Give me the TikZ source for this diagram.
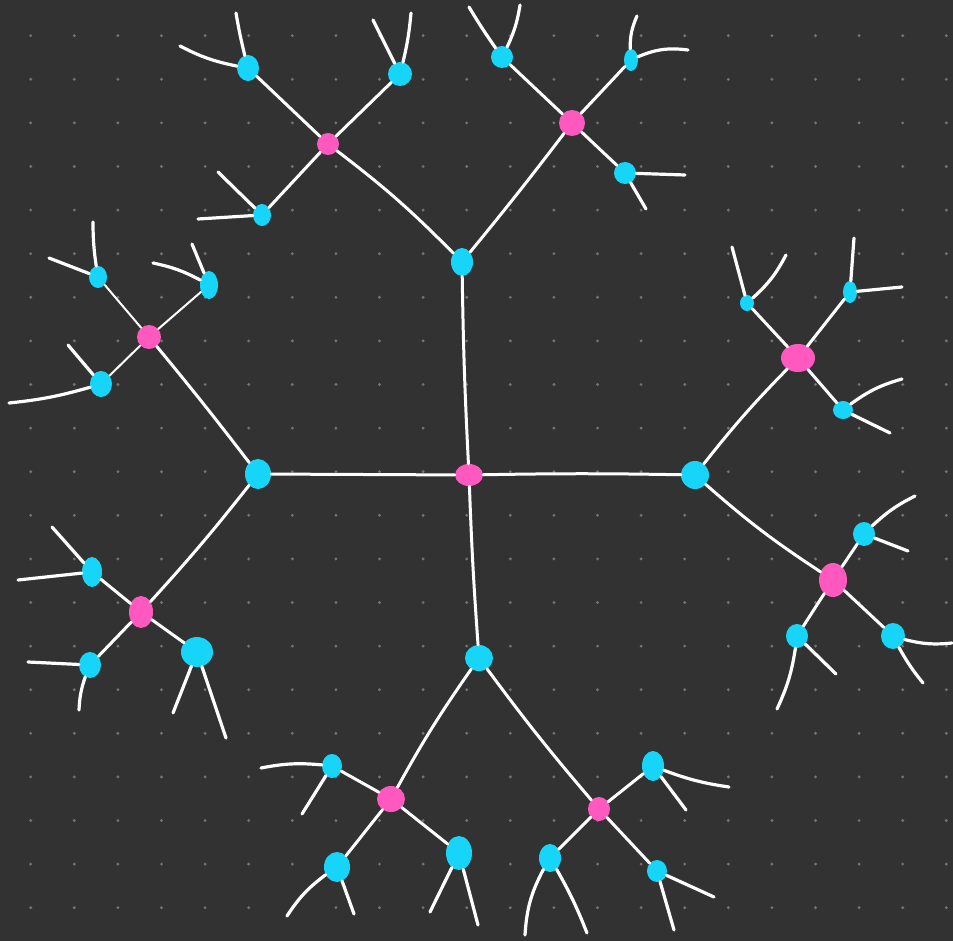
\documentclass[tikz,border=0pt]{standalone}
\usetikzlibrary{shapes.geometric}
\definecolor{bgc}{HTML}{323232}
\definecolor{dotc}{HTML}{747474}
\definecolor{cyn}{HTML}{17D5F8}
\definecolor{pnk}{HTML}{FF59C0}
\tikzset{
  bn/.style 2 args={ellipse,fill=cyn,draw=none,inner sep=0pt,minimum width=#1,minimum height=#2},
  pn/.style 2 args={ellipse,fill=pnk,draw=none,inner sep=0pt,minimum width=#1,minimum height=#2},
  trunk/.style={draw=white,line width=3pt,line cap=round,line join=round},
  twig/.style={draw=white,line width=3pt,line cap=round,line join=round},
  thin/.style={draw=white,line width=2pt,line cap=round,line join=round},
  leaf/.style={draw=white,line width=3.2pt,line cap=round,line join=round},
}
\begin{document}
\begin{tikzpicture}[x=1pt,y=-1pt]
\fill[bgc] (0,0) rectangle (953,941);
\useasboundingbox (0,0) rectangle (953,941);
\foreach \i in {0,...,21}{
  \foreach \j in {0,...,20}{
    \fill[dotc] ({30.7+43.6*\i},{35.7+43.6*\j}) circle (1.6);
  }
}
% ---------- nodes ----------
\node[pn={28pt}{22pt}] (c0) at (469,475) {};
\node[bn={22pt}{28pt}] (t1) at (462,262) {};
\node[bn={26pt}{30pt}] (l1) at (258,474) {};
\node[bn={28pt}{28pt}] (r1) at (695,475) {};
\node[bn={28pt}{26pt}] (b1) at (479,658) {};
% top
\node[pn={22pt}{22pt}] (tp1) at (328,144) {};
\node[bn={22pt}{26pt}] (tp1a) at (248,68) {};
\node[bn={24pt}{24pt}] (tp1b) at (400,74) {};
\node[bn={18pt}{22pt}] (tp1c) at (262,215) {};
\node[pn={26pt}{26pt}] (tp2) at (572,123) {};
\node[bn={22pt}{22pt}] (tp2a) at (502,57) {};
\node[bn={14pt}{22pt}] (tp2b) at (631,60) {};
\node[bn={22pt}{22pt}] (tp2c) at (625,173) {};
% left
\node[pn={24pt}{24pt}] (lp1) at (149,337) {};
\node[bn={18pt}{22pt}] (lp1a) at (98,277) {};
\node[bn={18pt}{28pt}] (lp1b) at (209,285) {};
\node[bn={22pt}{26pt}] (lp1c) at (101,384) {};
\node[pn={24pt}{32pt}] (lp2) at (141,612) {};
\node[bn={20pt}{30pt}] (lp2a) at (92,572) {};
\node[bn={22pt}{26pt}] (lp2b) at (90,665) {};
\node[bn={32pt}{30pt}] (lp2c) at (197,652) {};
% right
\node[pn={34pt}{28pt}] (rp1) at (798,358) {};
\node[bn={14pt}{16pt}] (rp1a) at (747,303) {};
\node[bn={14pt}{22pt}] (rp1b) at (850,292) {};
\node[bn={20pt}{18pt}] (rp1c) at (843,410) {};
\node[pn={28pt}{34pt}] (rp2) at (833,580) {};
\node[bn={22pt}{24pt}] (rp2a) at (864,534) {};
\node[bn={22pt}{24pt}] (rp2b) at (797,636) {};
\node[bn={24pt}{26pt}] (rp2c) at (893,636) {};
% bottom
\node[pn={28pt}{26pt}] (bp1) at (391,799) {};
\node[bn={20pt}{24pt}] (bp1a) at (332,766) {};
\node[bn={26pt}{30pt}] (bp1b) at (337,867) {};
\node[bn={26pt}{34pt}] (bp1c) at (459,853) {};
\node[pn={22pt}{24pt}] (bp2) at (599,809) {};
\node[bn={22pt}{30pt}] (bp2a) at (653,766) {};
\node[bn={22pt}{28pt}] (bp2b) at (550,858) {};
\node[bn={20pt}{22pt}] (bp2c) at (657,871) {};
% ---------- trunks ----------
\draw[trunk] (c0) to[bend left=1] (t1);
\draw[trunk] (c0) -- (l1);
\draw[trunk] (c0) to[bend left=1] (r1);
\draw[trunk] (c0) to[bend right=1] (b1);
\draw[trunk] (t1) to[bend right=4] (tp1);
\draw[trunk] (t1) to[bend right=1] (tp2);
\draw[trunk] (l1) to[bend right=1] (lp1);
\draw[trunk] (l1) to[bend left=2] (lp2);
\draw[trunk] (r1) to[bend left=3] (rp1);
\draw[trunk] (r1) to[bend right=4] (rp2);
\draw[trunk] (b1) to[bend right=3] (bp1);
\draw[trunk] (b1) to[bend right=2] (bp2);
% ---------- twigs ----------
\foreach \p in {tp1,tp2,lp2,rp1,rp2,bp1,bp2}{
  \foreach \s in {a,b,c}{
    \draw[twig] (\p) -- (\p\s);
  }
}
\foreach \s in {a,b,c}{ \draw[thin] (lp1) -- (lp1\s); }
% ---------- leaves ----------
\foreach \n/\ax/\ay/\ba/\bx/\by/\bb in {
  tp1a/236/13/2/180/46/8,
  tp1b/373/20/0/411/13/-4,
  tp1c/218/172/0/198/219/0,
  tp2a/469/7/2/520/5/-8,
  tp2b/637/16/12/688/50/15,
  tp2c/685/175/0/646/209/0,
  lp1a/93/222/4/49/258/0,
  lp1b/192/244/0/153/263/-8,
  lp1c/68/345/0/9/403/5,
  lp2a/52/527/0/18/580/0,
  lp2b/28/662/0/79/710/-8,
  lp2c/173/713/0/226/738/0,
  rp1a/732/247/0/786/255/-10,
  rp1b/854/238/0/902/287/0,
  rp1c/902/379/10/890/433/0,
  rp2a/915/496/8/908/551/0,
  rp2b/777/709/8/836/674/0,
  rp2c/952/643/-10/923/683/-5,
  bp1a/261/768/-8/302/814/0,
  bp1b/287/916/-10/354/914/0,
  bp1c/430/912/0/478/925/0,
  bp2a/729/787/-6/686/810/0,
  bp2b/525/935/-12/587/933/4,
  bp2c/714/897/0/674/930/0}{
  \coordinate (\n-1) at (\ax,\ay);
  \coordinate (\n-2) at (\bx,\by);
  \draw[leaf] (\n) to[bend left=\ba] (\n-1);
  \draw[leaf] (\n) to[bend left=\bb] (\n-2);
}
\end{tikzpicture}
\end{document}
